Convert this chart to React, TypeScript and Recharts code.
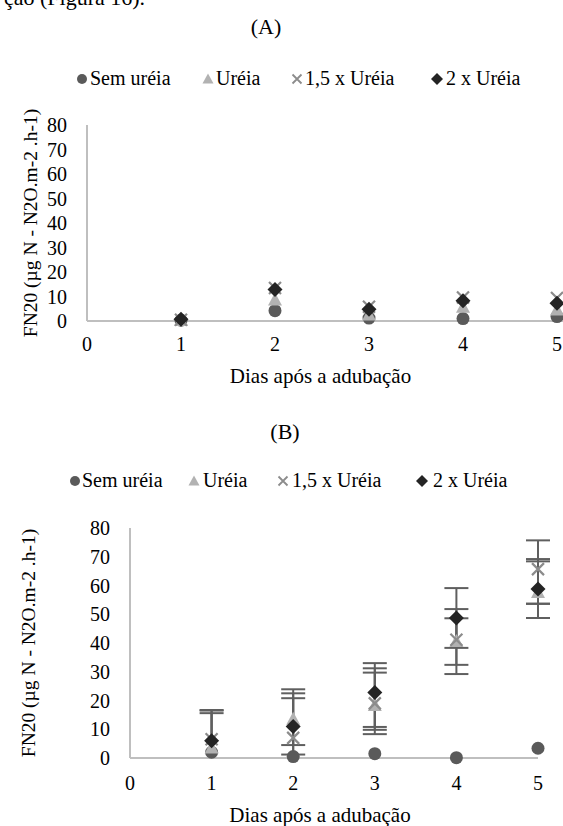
import React from 'react';
import { ScatterChart, Scatter, XAxis, YAxis, ErrorBar, Legend, Label } from 'recharts';

const days = [1, 2, 3, 4, 5];
const xTicks = [0, 1, 2, 3, 4, 5];
const yTicks = [0, 10, 20, 30, 40, 50, 60, 70, 80];
const seriesNames = ['Sem uréia', 'Uréia', '1,5 x Uréia', '2 x Uréia'];

// Chart (A)
const semA = [0.3, 4.2, 1.2, 1.0, 1.8];
const ureiaA = [0.2, 8.6, 2.4, 5.6, 4.5];
const x15A = [0.5, 13.5, 5.8, 9.6, 9.4];
const x2A = [0.7, 12.9, 4.8, 8.3, 7.2];

// Chart (B)
const semB = [2.0, 0.5, 1.5, 0.1, 3.4];
const ureiaB = [3.5, 13.5, 18.3, 40.5, 57.6];
const x15B = [6.5, 7.0, 19.0, 41.1, 65.7];
const x2B = [6.0, 11.0, 22.8, 48.7, 58.8];

// error bars (B): [below, above]
const ureiaErrB = [[3.5, 12.1], [9, 9], [8.5, 11.4], [8.1, 8.1], [4, 10.8]];
const x15ErrB = [[6.5, 10], [7, 16.9], [10.7, 12.2], [11.9, 10.7], [12, 10]];
const x2ErrB = [[6, 10.7], [9.8, 9.8], [12, 10.2], [10.4, 10.4], [10.1, 10.4]];

const C_SEM = '#5a5a5a';
const C_UREIA = '#b2b2b2';
const C_X15 = '#8c8c8c';
const C_X2 = '#242424';
const AXIS = '#bfbfbf';
const FONT = 'Liberation Serif, DejaVu Serif, Noto Serif, Times New Roman, serif';

const rows = (vals: number[], errs?: number[][]) =>
  days.map((d, i) => ({ x: d, y: vals[i], err: errs ? errs[i] : undefined }));

const CircleShape = (p: any) => <circle cx={p.cx} cy={p.cy} r={6.5} fill={C_SEM} />;
const TriShape = (p: any) => (
  <polygon points={`${p.cx},${p.cy - 7.5} ${p.cx + 7},${p.cy + 5.5} ${p.cx - 7},${p.cy + 5.5}`} fill={C_UREIA} />
);
const CrossShape = (p: any) => (
  <path
    d={`M${p.cx - 6},${p.cy - 6}L${p.cx + 6},${p.cy + 6}M${p.cx + 6},${p.cy - 6}L${p.cx - 6},${p.cy + 6}`}
    stroke={C_X15}
    strokeWidth={2.2}
    fill="none"
  />
);
const DiamondShape = (p: any) => (
  <polygon points={`${p.cx},${p.cy - 7.5} ${p.cx + 7.5},${p.cy} ${p.cx},${p.cy + 7.5} ${p.cx - 7.5},${p.cy}`} fill={C_X2} />
);

const legendIcon = (i: number, x: number, y: number) => {
  if (i === 0) return <circle cx={x} cy={y} r={5} fill={C_SEM} />;
  if (i === 1) return <polygon points={`${x},${y - 5.5} ${x + 5.5},${y + 4.5} ${x - 5.5},${y + 4.5}`} fill={C_UREIA} />;
  if (i === 2)
    return (
      <path d={`M${x - 4.5},${y - 4.5}L${x + 4.5},${y + 4.5}M${x + 4.5},${y - 4.5}L${x - 4.5},${y + 4.5}`} stroke={C_X15} strokeWidth={1.8} />
    );
  return <polygon points={`${x},${y - 6} ${x + 6},${y} ${x},${y + 6} ${x - 6},${y}`} fill={C_X2} />;
};

const makeLegend = (iconX: number[], textX: number[]) => (props: any) => {
  const payload = (props.payload || []).slice();
  payload.sort((a: any, b: any) => seriesNames.indexOf(a.value) - seriesNames.indexOf(b.value));
  return (
    <svg width={563} height={30} style={{ overflow: 'visible' }}>
      {payload.map((entry: any) => {
        const i = seriesNames.indexOf(entry.value);
        return (
          <g key={entry.value}>
            {legendIcon(i, iconX[i], 17)}
            <text x={textX[i]} y={23} fontSize={20} fontFamily={FONT} fill="#000">
              {entry.value}
            </text>
          </g>
        );
      })}
    </svg>
  );
};

const tickStyle = { fill: '#000', fontSize: 20, fontFamily: FONT };

export default function App() {
  return (
    <div
      style={{
        position: 'absolute',
        left: 0,
        top: 0,
        width: 563,
        height: 826,
        overflow: 'hidden',
        background: '#fff',
        fontFamily: FONT,
      }}
    >
      <svg style={{ position: 'absolute', left: 0, top: 0 }} width={563} height={826}>
        <text x={4} y={5} fontSize={22} fontFamily={FONT} fill="#000">ção (Figura 16).</text>
        <text x={266} y={34} fontSize={22} fontFamily={FONT} fill="#000" textAnchor="middle">(A)</text>
        <text x={285} y={439} fontSize={22} fontFamily={FONT} fill="#000" textAnchor="middle">(B)</text>
      </svg>

      <div style={{ position: 'absolute', left: 0, top: 0 }}>
        <ScatterChart width={620} height={400} margin={{ top: 125, right: 16, bottom: 0, left: 0 }}>
          <XAxis
            type="number"
            dataKey="x"
            domain={[0, 5.5]}
            ticks={xTicks}
            interval={0}
            axisLine={{ stroke: AXIS, strokeWidth: 2 }}
            tickLine={false}
            tickSize={0}
            tickMargin={16}
            height={79}
            tick={tickStyle}
          >
            <Label value="Dias após a adubação" position="insideBottom" offset={17} dx={-25} fontSize={21} fontFamily={FONT} fill="#000" />
          </XAxis>
          <YAxis
            type="number"
            dataKey="y"
            domain={[0, 80]}
            ticks={yTicks}
            interval={0}
            width={87}
            axisLine={{ stroke: AXIS, strokeWidth: 2 }}
            tickLine={false}
            tickSize={0}
            tickMargin={20}
            tick={tickStyle}
          >
            <Label
              value="FN20 (µg N - N2O.m-2 .h-1)"
              angle={-90}
              position="insideLeft"
              offset={24}
              dx={6}
              style={{ textAnchor: 'middle' }}
              fontSize={19.5}
              fontFamily={FONT}
              fill="#000"
            />
          </YAxis>
          <Legend
            layout="horizontal"
            verticalAlign="middle"
            align="center"
            wrapperStyle={{ top: 62, left: 0, width: 563, height: 30 }}
            content={makeLegend([82, 208, 297, 437], [90, 216, 305, 446])}
          />
          <Scatter name={seriesNames[0]} data={rows(semA)} shape={CircleShape} fill={C_SEM} isAnimationActive={false} />
          <Scatter name={seriesNames[1]} data={rows(ureiaA)} shape={TriShape} fill={C_UREIA} isAnimationActive={false} />
          <Scatter name={seriesNames[2]} data={rows(x15A)} shape={CrossShape} fill={C_X15} isAnimationActive={false} />
          <Scatter name={seriesNames[3]} data={rows(x2A)} shape={DiamondShape} fill={C_X2} isAnimationActive={false} />
        </ScatterChart>
      </div>

      <div style={{ position: 'absolute', left: 0, top: 420 }}>
        <ScatterChart width={563} height={406} margin={{ top: 108, right: 25, bottom: 0, left: 0 }}>
          <XAxis
            type="number"
            dataKey="x"
            domain={[0, 5]}
            ticks={xTicks}
            interval={0}
            axisLine={{ stroke: AXIS, strokeWidth: 2 }}
            tickLine={false}
            tickSize={0}
            tickMargin={18}
            height={68}
            tick={tickStyle}
          >
            <Label value="Dias após a adubação" position="insideBottom" offset={4} dx={-14} fontSize={21} fontFamily={FONT} fill="#000" />
          </XAxis>
          <YAxis
            type="number"
            dataKey="y"
            domain={[0, 80]}
            ticks={yTicks}
            interval={0}
            width={130}
            axisLine={{ stroke: AXIS, strokeWidth: 2 }}
            tickLine={false}
            tickSize={0}
            tickMargin={20}
            tick={tickStyle}
          >
            <Label
              value="FN20 (µg N - N2O.m-2 .h-1)"
              angle={-90}
              position="insideLeft"
              offset={47}
              dx={-19}
              style={{ textAnchor: 'middle' }}
              fontSize={19.5}
              fontFamily={FONT}
              fill="#000"
            />
          </YAxis>
          <Legend
            layout="horizontal"
            verticalAlign="middle"
            align="center"
            wrapperStyle={{ top: 44, left: 0, width: 563, height: 30 }}
            content={makeLegend([75, 194, 283, 422], [82, 203, 292, 433])}
          />
          <Scatter name={seriesNames[0]} data={rows(semB)} shape={CircleShape} fill={C_SEM} isAnimationActive={false} />
          <Scatter name={seriesNames[1]} data={rows(ureiaB, ureiaErrB)} shape={TriShape} fill={C_UREIA} isAnimationActive={false}>
            <ErrorBar dataKey="err" direction="y" width={12} stroke="#5f5f5f" strokeWidth={2} />
          </Scatter>
          <Scatter name={seriesNames[2]} data={rows(x15B, x15ErrB)} shape={CrossShape} fill={C_X15} isAnimationActive={false}>
            <ErrorBar dataKey="err" direction="y" width={12} stroke="#5f5f5f" strokeWidth={2} />
          </Scatter>
          <Scatter name={seriesNames[3]} data={rows(x2B, x2ErrB)} shape={DiamondShape} fill={C_X2} isAnimationActive={false}>
            <ErrorBar dataKey="err" direction="y" width={12} stroke="#5f5f5f" strokeWidth={2} />
          </Scatter>
        </ScatterChart>
      </div>
    </div>
  );
}
